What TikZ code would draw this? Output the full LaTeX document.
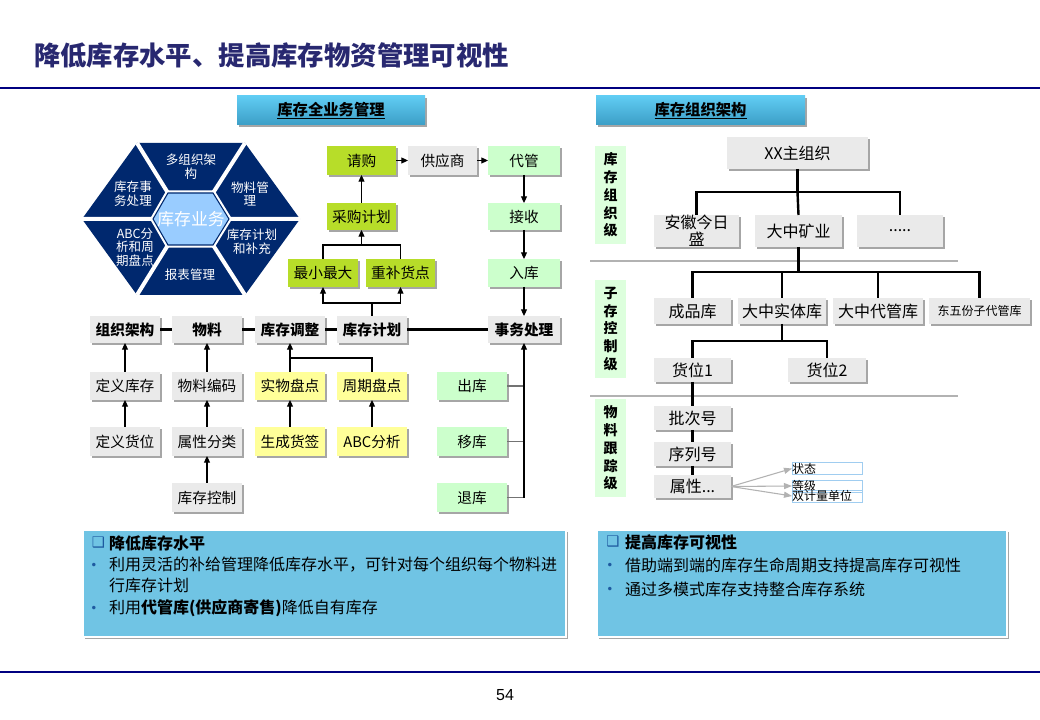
\documentclass[tikz,border=0pt]{standalone}
\usepackage{fontspec}
\setmainfont{Noto Sans CJK SC}
\newfontfamily\dejavu{DejaVu Sans}
\newfontfamily\arialf{Liberation Sans}
\usetikzlibrary{arrows.meta,shadows,calc}
\definecolor{titleblue}{RGB}{40,40,112}
\definecolor{navyline}{RGB}{0,0,128}
\definecolor{hexnavy}{RGB}{0,40,110}
\definecolor{hexlight}{RGB}{153,204,255}
\definecolor{boxgray}{RGB}{234,234,234}
\definecolor{limeg}{RGB}{183,221,41}
\definecolor{lgreen}{RGB}{204,255,204}
\definecolor{lyellow}{RGB}{255,255,153}
\definecolor{infoblue}{RGB}{112,196,228}
\definecolor{hdtop}{RGB}{96,204,243}
\definecolor{hdbot}{RGB}{60,158,198}
\definecolor{lvgreen}{RGB}{221,255,221}
\definecolor{lblue}{RGB}{160,205,240}
\definecolor{bulletc}{RGB}{30,90,160}
\newcommand{\bx}[7]{\node[#6, minimum width={(#4-#2)*0.75pt}, minimum height={(#5-#3)*0.75pt}] (#1) at ({(#2+#4)/2},{(#3+#5)/2}) {#7};}
\begin{document}
\begin{tikzpicture}[x=0.75pt,y=-0.75pt,
  shd/.style={drop shadow={shadow xshift=1.3pt,shadow yshift=-1.3pt,opacity=0.35,fill=black}},
  base/.style={inner sep=0pt,outer sep=0pt,align=center},
  fbox/.style={base,font=\fontsize{11}{13}\selectfont},
  gbox/.style={fbox,fill=boxgray,shd},
  mbox/.style={gbox,font=\fontsize{11}{13}\selectfont\bfseries},
  limebox/.style={fbox,fill=limeg,shd},
  grbox/.style={fbox,fill=lgreen,shd},
  ybox/.style={fbox,fill=lyellow,shd},
  obox/.style={base,fill=boxgray,shd,font=\fontsize{12}{14}\selectfont},
  header/.style={base,top color=hdtop,bottom color=hdbot,shd,font=\fontsize{11.5}{13}\selectfont\bfseries},
  lvbox/.style={base,fill=lvgreen,font=\fontsize{10.5}{13.3}\selectfont\bfseries},
  labbox/.style={base,draw=lblue,line width=0.5pt,font=\fontsize{9}{10}\selectfont},
  infobox/.style={base,fill=infoblue,draw=white,line width=1.5pt,shd},
  hext/.style={base,text=white,font=\fontsize{9.4}{10.2}\selectfont},
  arr/.style={-{Triangle[length=5pt,width=4.5pt]},line width=0.8pt},
  thick2/.style={line width=2.2pt},
  orgl/.style={line width=1.8pt},
  grayl/.style={line width=1.2pt,draw=black!55},
  infot/.style={base,anchor=west,font=\fontsize{12}{14}\selectfont},
  infoh/.style={base,anchor=west,font=\fontsize{12}{14}\selectfont\bfseries},
  sqt/.style={base,text=bulletc,font=\dejavu\fontsize{11}{12}\selectfont},
  bult/.style={base,text=bulletc,font=\dejavu\fontsize{9}{10}\selectfont}
]
\useasboundingbox[fill=white] (0,0) rectangle (1040,720);

% title and rules
\node[base,anchor=west,text=titleblue,font=\fontsize{19.8}{22}\selectfont\bfseries] (title) at (34,55) {降低库存水平、提高库存物资管理可视性};
\draw[navyline,line width=1.5pt] (0,88) -- (1040,88);
\draw[navyline,line width=0.8pt] (0,672) -- (1040,672);
\node[base,font=\arialf\fontsize{12}{14}\selectfont] (pg) at (505,695) {54};

% headers
\bx{hd1}{237}{96}{425}{125}{header}{\underline{库存全业务管理}}
\bx{hd2}{596}{96}{805}{125}{header}{\underline{库存组织架构}}

% hexagon
\fill[hexnavy] (82,219) -- (137,143) -- (245,143) -- (300,219) -- (245,295) -- (137,295) -- cycle;
\draw[white,line width=3pt] (153,219) -- (82,219) (168,193) -- (137,143) (213,193) -- (245,143)
  (229,219) -- (300,219) (213,245) -- (245,295) (168,245) -- (137,295);
\draw[white,line width=4pt,line join=miter] (153,219) -- (168,193) -- (213,193) -- (229,219) -- (213,245) -- (168,245) -- cycle;
\filldraw[fill=hexlight,draw=hexnavy,line width=0.8pt] (153,219) -- (168,193) -- (213,193) -- (229,219) -- (213,245) -- (168,245) -- cycle;
\node[hext] (h1) at (191,166.5) {多组织架\\构};
\node[hext] (h2) at (250,194) {物料管\\理};
\node[hext] (h3) at (252,241.5) {库存计划\\和补充};
\node[hext] (h4) at (190,275) {报表管理};
\node[hext] (h5) at (135,247) {ABC分\\析和周\\期盘点};
\node[hext] (h6) at (133,194) {库存事\\务处理};
\node[base,text=white,font=\fontsize{12.6}{14}\selectfont] (hc) at (191,219) {库存业务};

% top flow
\bx{qg}{327}{146}{396}{175}{limebox}{请购}
\bx{gys}{408}{146}{477}{175}{gbox}{供应商}
\bx{dg}{488}{146}{560}{175}{grbox}{代管}
\bx{cgjh}{327}{203}{396}{230}{limebox}{采购计划}
\bx{js}{488}{203}{560}{230}{grbox}{接收}
\bx{zx}{288}{259}{358}{287}{limebox}{最小最大}
\bx{cb}{366}{259}{435}{287}{limebox}{重补货点}
\bx{rk}{488}{259}{560}{287}{grbox}{入库}

% main row
\bx{zzjg}{90}{316}{160}{343}{mbox}{组织架构}
\bx{wl}{172}{316}{242}{343}{mbox}{物料}
\bx{kctz}{255}{316}{325}{343}{mbox}{库存调整}
\bx{kcjh}{337}{316}{407}{343}{mbox}{库存计划}
\bx{swcl}{488}{316}{560}{343}{mbox}{事务处理}

% columns
\bx{dykc}{90}{372}{160}{400}{gbox}{定义库存}
\bx{dyhw}{90}{427}{160}{456}{gbox}{定义货位}
\bx{wlbm}{172}{372}{242}{400}{gbox}{物料编码}
\bx{sxfl}{172}{427}{242}{456}{gbox}{属性分类}
\bx{kckz}{172}{483}{242}{512}{gbox}{库存控制}
\bx{swpd}{255}{372}{325}{400}{ybox}{实物盘点}
\bx{schq}{255}{427}{325}{456}{ybox}{生成货签}
\bx{zqpd}{337}{372}{407}{400}{ybox}{周期盘点}
\bx{abc}{337}{427}{407}{456}{ybox}{ABC分析}
\bx{ck}{437}{372}{507}{400}{grbox}{出库}
\bx{yk}{437}{427}{507}{456}{grbox}{移库}
\bx{tk}{437}{483}{507}{512}{grbox}{退库}

% top flow connectors
\draw[arr] (qg) -- (gys);
\draw[arr] (gys) -- (dg);
\draw[arr] (dg) -- (js);
\draw[arr] (js) -- (rk);
\draw[arr] (rk) -- (swcl);
\draw[arr] (cgjh) -- (qg);
\coordinate (j1) at (361.5,245);
\draw[line width=0.8pt] (zx.north) |- (j1) -| (cb.north);
\draw[arr] (j1) -- (cgjh.south);
\coordinate (j2) at (372,303);
\draw[line width=0.8pt] (kcjh.north) -- (j2);
\draw[arr] (j2) -| (zx.south);
\draw[arr] (j2) -| (cb.south);

% main row connectors
\draw[thick2] (zzjg) -- (wl);
\draw[thick2] (wl) -- (kctz);
\draw[thick2] (kctz) -- (kcjh);
\draw[thick2] (kcjh) -- (swcl);

% column connectors
\draw[arr] (dykc) -- (zzjg);
\draw[arr] (dyhw) -- (dykc);
\draw[arr] (wlbm) -- (wl);
\draw[arr] (sxfl) -- (wlbm);
\draw[arr] (kckz) -- (sxfl);
\draw[arr] (swpd) -- (kctz);
\draw[arr] (schq) -- (swpd);
\draw[arr] (abc) -- (zqpd);
\coordinate (j3) at (290,358);
\draw[line width=0.8pt] (zqpd.north) |- (j3);
\coordinate (j4) at (524,498);
\draw[grayl] (ck.east) -- (ck.east -| j4);
\draw[grayl] (yk.east) -- (yk.east -| j4);
\draw[grayl] (tk.east) -- (tk.east -| j4);
\draw[arr] (j4) -- (swcl.south);

% right side: levels
\draw[black!30,line width=0.8pt] (590,261) -- (958,261);
\draw[black!30,line width=0.8pt] (590,396) -- (958,396);
\bx{lv1}{595}{146}{626}{244}{lvbox}{库\\存\\组\\织\\级}
\bx{lv2}{595}{280}{626}{378}{lvbox}{子\\存\\控\\制\\级}
\bx{lv3}{595}{399}{626}{497}{lvbox}{物\\料\\跟\\踪\\级}

% org boxes
\bx{xx}{727}{137}{868}{169}{obox}{XX主组织}
\bx{ah}{654}{215}{739}{247}{obox,font=\fontsize{12}{12.5}\selectfont}{安徽今日\\盛}
\bx{dzky}{755}{215}{842}{247}{obox}{大中矿业}
\bx{dots}{857}{215}{943}{247}{obox}{.....}
\bx{cpk}{654}{298}{731}{324}{obox}{成品库}
\bx{dzst}{738}{298}{826}{324}{obox}{大中实体库}
\bx{dzdg}{833}{298}{923}{324}{obox}{大中代管库}
\bx{dfz}{929}{298}{1030}{324}{obox,font=\fontsize{9}{11}\selectfont}{东五份子代管库}
\bx{hw1}{654}{358}{731}{382}{obox}{货位1}
\bx{hw2}{788}{358}{866}{382}{obox}{货位2}
\bx{pch}{654}{406}{731}{430}{obox}{批次号}
\bx{xlh}{654}{442}{731}{466}{obox}{序列号}
\bx{sx}{654}{475}{731}{498}{obox}{属性...}

% org connectors
\coordinate (o1) at (797.5,192);
\draw[orgl] (xx.south) -- (o1);
\draw[orgl] (ah.north) |- (o1) -| (dots.north);
\draw[orgl] (o1) -- (dzky.north);
\coordinate (o2) at (798.5,272);
\draw[orgl] (dzky.south) -- (o2);
\draw[orgl] (cpk.north) |- (o2) -| (dfz.north);
\draw[orgl] (dzst.north) -- (dzst.north |- o2);
\draw[orgl] (dzdg.north) -- (dzdg.north |- o2);
\coordinate (o3) at (782,341);
\draw[orgl] (dzst.south) -- (o3);
\draw[orgl] (hw1.north) |- (o3) -| (hw2.north);
\draw[orgl] (hw1) -- (pch);
\draw[orgl] (pch) -- (xlh);
\draw[orgl] (xlh) -- (sx);

% attribute labels
\node[labbox,anchor=west,minimum height=9.5pt] (zt) at (792,468.5) {\makebox[52.5pt][l]{状态}};
\node[labbox,anchor=west,minimum height=9pt] (dj) at (792,486) {\makebox[52.5pt][l]{等级}};
\node[labbox,anchor=west,minimum height=9pt] (sjl) at (792,496) {\makebox[52.5pt][l]{双计量单位}};
\draw[black!30,line width=0.8pt,-{Triangle[length=6pt,width=4.5pt]}] (sx.east) -- (zt.west);
\draw[black!30,line width=0.8pt,-{Triangle[length=6pt,width=4.5pt]}] (sx.east) -- (dj.west);
\draw[black!30,line width=0.8pt,-{Triangle[length=6pt,width=4.5pt]}] (sx.east) -- (sjl.west);

% info boxes
\bx{bl}{83}{530}{566}{637}{infobox}{}
\bx{br}{597}{530}{1007}{637}{infobox}{}
\node[sqt] (sq1) at (98.5,543) {❑};
\node[infoh] (t1) at (109,543) {降低库存水平};
\node[bult] (b11) at (94,566) {•};
\node[infot] (t11) at (109,565) {利用灵活的补给管理降低库存水平，可针对每个组织每个物料进};
\node[infot] (t12) at (109,585) {行库存计划};
\node[bult] (b12) at (94,609) {•};
\node[infot] (t13) at (109,608) {利用\textbf{代管库(供应商寄售)}降低自有库存};

\node[sqt] (sq2) at (613,542) {❑};
\node[infoh] (t2) at (625,542) {提高库存可视性};
\node[bult] (b21) at (610,566) {•};
\node[infot] (t21) at (625,565) {借助端到端的库存生命周期支持提高库存可视性};
\node[bult] (b22) at (610,590) {•};
\node[infot] (t22) at (625,589) {通过多模式库存支持整合库存系统};
\end{tikzpicture}
\end{document}
